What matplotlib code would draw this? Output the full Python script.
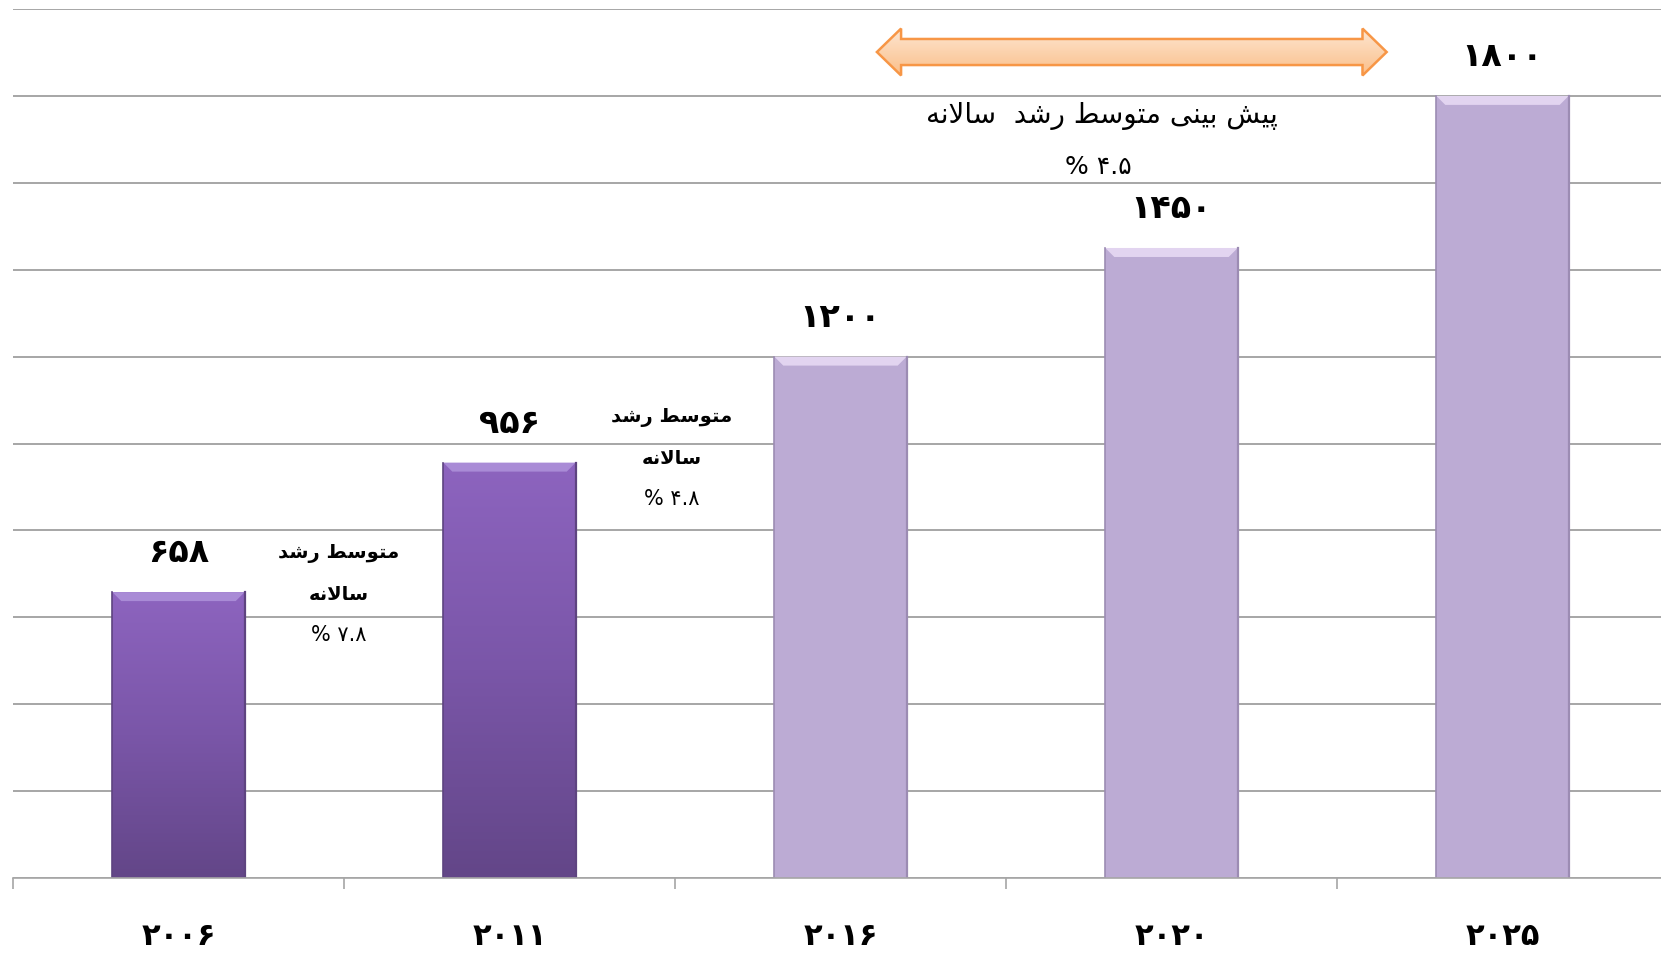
import numpy as np
import matplotlib.pyplot as plt
from matplotlib.patches import Polygon
from matplotlib.colors import LinearSegmentedColormap

# data
years = ['۲۰۰۶', '۲۰۱۱', '۲۰۱۶', '۲۰۲۰', '۲۰۲۵']
values = [658, 956, 1200, 1450, 1800]
value_labels = ['۶۵۸', '۹۵۶', '۱۲۰۰', '۱۴۵۰', '۱۸۰۰']
actual = [True, True, False, False, False]
growth_labels = ['۷.۸', '۴.۸']
forecast_growth = '۴.۵'


# minimal persian shaping (matplotlib has no bidi / joining)
FORMS = {
    'ا': ('\uFE8D', '\uFE8E'),
    'ب': ('\uFE8F', '\uFE90', '\uFE91', '\uFE92'),
    'پ': ('\uFB56', '\uFB57', '\uFB58', '\uFB59'),
    'ت': ('\uFE95', '\uFE96', '\uFE97', '\uFE98'),
    'د': ('\uFEA9', '\uFEAA'),
    'ر': ('\uFEAD', '\uFEAE'),
    'س': ('\uFEB1', '\uFEB2', '\uFEB3', '\uFEB4'),
    'ش': ('\uFEB5', '\uFEB6', '\uFEB7', '\uFEB8'),
    'ط': ('\uFEC1', '\uFEC2', '\uFEC3', '\uFEC4'),
    'ل': ('\uFEDD', '\uFEDE', '\uFEDF', '\uFEE0'),
    'م': ('\uFEE1', '\uFEE2', '\uFEE3', '\uFEE4'),
    'ن': ('\uFEE5', '\uFEE6', '\uFEE7', '\uFEE8'),
    'ه': ('\uFEE9', '\uFEEA', '\uFEEB', '\uFEEC'),
    'و': ('\uFEED', '\uFEEE'),
    'ی': ('\uFBFC', '\uFBFD', '\uFBFE', '\uFBFF'),
}


def fa(text):
    out = []
    n = len(text)
    i = 0
    while i < n:
        c = text[i]
        if c not in FORMS:
            out.append(c)
            i += 1
            continue
        prev_joins = i > 0 and text[i - 1] in FORMS and len(FORMS[text[i - 1]]) == 4
        if c == 'ل' and i + 1 < n and text[i + 1] == 'ا':
            out.append('\uFEFC' if prev_joins else '\uFEFB')
            i += 2
            continue
        f = FORMS[c]
        nxt = i + 1 < n and text[i + 1] in FORMS
        if prev_joins and nxt and len(f) == 4:
            out.append(f[3])
        elif prev_joins:
            out.append(f[1])
        elif nxt and len(f) == 4:
            out.append(f[2])
        else:
            out.append(f[0])
        i += 1
    return ''.join(reversed(out))


plt.rcParams['font.family'] = ['DejaVu Sans']

fig = plt.figure(figsize=(16.61, 9.70), dpi=100)
ax = fig.add_axes([13 / 1661, 91 / 970, 1655 / 1661, 869 / 970])

x = np.arange(len(values))
w = 0.40

ax.set_yticks(np.arange(0, 2001, 200))
ax.yaxis.grid(True, color='#8e8e8e', lw=1.1)
ax.set_axisbelow(True)
ax.tick_params(axis='y', length=0, labelleft=False)
for s in ['left', 'right', 'top']:
    ax.spines[s].set_visible(False)
ax.spines['bottom'].set_color('#a6a6a6')
ax.spines['bottom'].set_linewidth(1.2)

ax.set_xticks(x)
ax.set_xticklabels(years, fontsize=22, fontweight='bold')
ax.tick_params(axis='x', length=0, pad=31)
ax.set_xticks(np.arange(-0.5, 4.6, 1), minor=True)
ax.tick_params(axis='x', which='minor', length=8, color='#a6a6a6', width=1.2)

dark_cmap = LinearSegmentedColormap.from_list('dk', ['#8d64bf', '#7a56a8', '#634688'])
bars = ax.bar(x, values, width=w, color=['#7a58a8' if a else '#bcabd4' for a in actual],
              zorder=2)

# px -> data unit helpers for bevel
px_y = 2000 / 869
px_x = 5 / 1655
for b, a in zip(bars, actual):
    x0, x1 = b.get_x(), b.get_x() + b.get_width()
    h = b.get_height()
    if a:
        grad = np.linspace(0, 1, 256).reshape(-1, 1)
        im = ax.imshow(grad, cmap=dark_cmap, aspect='auto', extent=(x0, x1, 0, h),
                       zorder=2.1)
        im.set_clip_path(b)
        top_col, side_col = '#a98bd6', '#5e4480'
    else:
        top_col, side_col = '#e2d4f0', '#9c8cb3'
    dx, dy = 9 * px_x, 9 * px_y
    ax.add_patch(Polygon([(x0, h), (x1, h), (x1 - dx, h - dy), (x0 + dx, h - dy)],
                         closed=True, facecolor=top_col, edgecolor='none', zorder=2.3))
    ax.plot([x0, x0], [0, h], color=side_col, lw=1.2, zorder=2.4)
    ax.plot([x1, x1], [0, h], color=side_col, lw=1.6, zorder=2.4)

for xi, v, lab in zip(x, values, value_labels):
    ax.annotate(lab, (xi, v), xytext=(0, 29), textcoords='offset points',
                ha='center', va='center', fontsize=24, fontweight='bold')

# growth notes between actual bars
note_x = [0.485, 1.49]
note_y = [748, 1061]
for nx, ny, g in zip(note_x, note_y, growth_labels):
    ax.text(nx, ny, fa('متوسط رشد'), ha='center', va='center', fontsize=14,
            fontweight='bold')
    ax.text(nx, ny - 94, fa('سالانه'), ha='center', va='center', fontsize=14,
            fontweight='bold')
    ax.text(nx, ny - 186, '% ' + g, ha='center', va='center', fontsize=15)

ax.text(2.79, 1756, fa('پیش بینی متوسط رشد  سالانه'), ha='center', va='center',
        fontsize=20)
ax.text(2.78, 1639, '% ' + forecast_growth, ha='center', va='center', fontsize=18)

# double-headed forecast arrow with soft orange gradient
ax0, ax1, ay = 2.11, 3.65, 1901
sh, hh, hl = 30, 54, 0.073
arrow = Polygon([(ax0, ay), (ax0 + hl, ay + hh), (ax0 + hl, ay + sh), (ax1 - hl, ay + sh),
                 (ax1 - hl, ay + hh), (ax1, ay), (ax1 - hl, ay - hh), (ax1 - hl, ay - sh),
                 (ax0 + hl, ay - sh), (ax0 + hl, ay - hh)], closed=True,
                facecolor='none', edgecolor='#f79646', lw=1.8, zorder=3.1)
ax.add_patch(arrow)
org_cmap = LinearSegmentedColormap.from_list('or', ['#fde6d2', '#fcd3ae', '#fbbf8a'])
grad = np.linspace(0, 1, 128).reshape(-1, 1)
aim = ax.imshow(grad, cmap=org_cmap, aspect='auto',
                extent=(ax0, ax1, ay - hh, ay + hh), zorder=3)
aim.set_clip_path(arrow)

ax.set_xlim(-0.5, 4.5)
ax.set_ylim(0, 2000)

fig.savefig('out.png', dpi=100)
